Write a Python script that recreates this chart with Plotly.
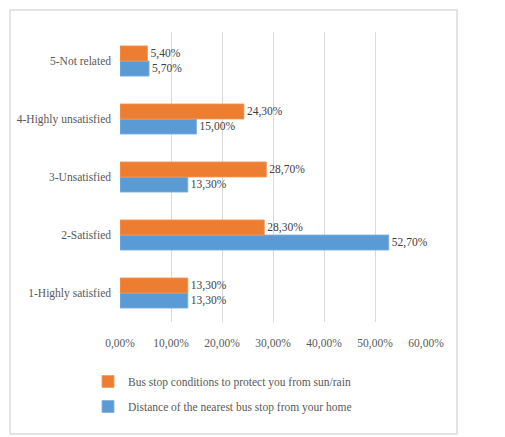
import plotly.graph_objects as go

# Survey answer categories, bottom to top
categories = ["1-Highly satisfied", "2-Satisfied", "3-Unsatisfied",
              "4-Highly unsatisfied", "5-Not related"]

# Share of respondents per answer (fractions)
distance_values = [0.133, 0.527, 0.133, 0.150, 0.057]
shelter_values = [0.133, 0.283, 0.287, 0.243, 0.054]

series_names = ["Distance of the nearest bus stop from your home",
                "Bus stop conditions to protect you from sun/rain"]

tick_values = [0, 0.1, 0.2, 0.3, 0.4, 0.5, 0.6]

FONT = "Liberation Serif"
BLUE = "#5B9BD5"
ORANGE = "#ED7D31"
FS = 11.5

fig = go.Figure()

fig.add_trace(go.Bar(
    y=categories, x=distance_values, name=series_names[0], orientation="h",
    marker=dict(color=BLUE, line=dict(color="#7fb1df", width=0.8)),
    texttemplate="%{x:.2%}", textposition="outside",
    textfont=dict(family=FONT, size=FS, color="#404040"),
    constraintext="none", cliponaxis=False,
    legendgroup="a", legendrank=2,
))
fig.add_trace(go.Bar(
    y=categories, x=shelter_values, name=series_names[1], orientation="h",
    marker=dict(color=ORANGE, line=dict(color="#f29a5e", width=0.8)),
    texttemplate="%{x:.2%}", textposition="outside",
    textfont=dict(family=FONT, size=FS, color="#404040"),
    constraintext="none", cliponaxis=False,
    legendgroup="b", legendrank=1,
))

L, R, T, B = 120, 79, 32, 115
W, H = 505, 437
pw, ph = W - L - R, H - T - B

def px_x(p):
    return (p - L) / pw

def px_y(p):
    return (H - B - p) / ph

fig.update_layout(
    width=W, height=H,
    margin=dict(l=L, r=R, t=T, b=B),
    paper_bgcolor="white", plot_bgcolor="white",
    separators=", ",
    barmode="group", bargap=0.48, bargroupgap=0,
    font=dict(family=FONT, size=FS, color="#595959"),
    xaxis=dict(
        range=[0, 0.6], tickvals=tick_values, tickformat=".2%",
        showgrid=True, gridcolor="#d9d9d9", gridwidth=1,
        zeroline=False, showline=False, ticks="",
        ticklabelstandoff=12,
        tickfont=dict(family=FONT, size=FS, color="#595959"),
        fixedrange=True,
    ),
    yaxis=dict(
        categoryorder="array", categoryarray=categories,
        showgrid=False, zeroline=False, showline=False, ticks="",
        ticklabelstandoff=8,
        tickfont=dict(family=FONT, size=FS, color="#595959"),
        fixedrange=True,
    ),
    legend=dict(
        x=px_x(88), y=px_y(367), xanchor="left", yanchor="top",
        orientation="v", traceorder="grouped", tracegroupgap=6,
        itemwidth=30,
        font=dict(family=FONT, size=FS, color="#595959"),
        bgcolor="rgba(0,0,0,0)",
    ),
    showlegend=True,
    shapes=[dict(
        type="rect", xref="paper", yref="paper",
        x0=px_x(10), x1=px_x(457), y0=px_y(434), y1=px_y(10),
        line=dict(color="#dcdcdc", width=1.5), fillcolor="rgba(0,0,0,0)",
        layer="below",
    )],
)

fig.write_html("out.html")
